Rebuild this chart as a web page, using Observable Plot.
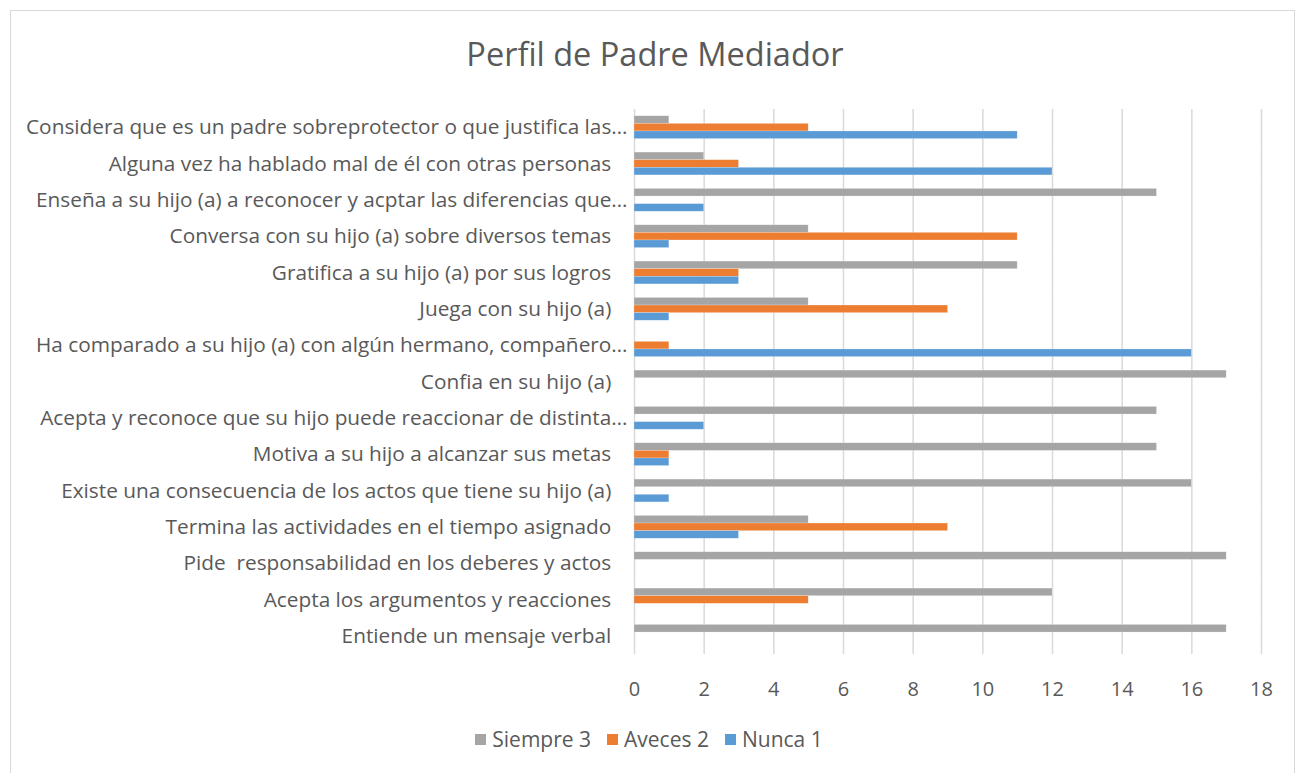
<!DOCTYPE html>
<html>
<head>
<meta charset="utf-8">
<script src="https://cdn.jsdelivr.net/npm/d3@7"></script>
<script src="https://cdn.jsdelivr.net/npm/@observablehq/plot@0.6"></script>
<style>
  html, body { margin: 0; padding: 0; background: #fff; }
  body { width: 1302px; height: 773px; overflow: hidden; position: relative; font-family: "Open Sans", sans-serif; color: #595959; }
  #frame { position: absolute; left: 10px; top: 10px; width: 1285px; height: 780px; border: 1px solid #d9d9d9; box-sizing: border-box; }
  #title { position: absolute; left: 4px; width: 1302px; top: 31px; text-align: center; font-size: 32.5px; color: #595959; }
  #chart { position: absolute; left: 0; top: 95px; }
  #legend { position: absolute; left: -2px; width: 1302px; top: 725px; display: flex; justify-content: center; gap: 16px; font-size: 21px; color: #595959; }
  #legend span.item { display: flex; align-items: center; }
  #legend span.sw { display: inline-block; width: 11px; height: 11px; margin-right: 6px; }
</style>
</head>
<body>
<div id="frame"></div>
<div id="title">Perfil de Padre Mediador</div>
<div id="chart"></div>
<div id="legend"></div>
<script>
const categories = [
  "Considera que es un padre sobreprotector o que justifica las…",
  "Alguna vez ha hablado mal de él con otras personas",
  "Enseña a su hijo (a) a reconocer y acptar las diferencias que…",
  "Conversa con su hijo (a) sobre diversos temas",
  "Gratifica a su hijo (a) por sus logros",
  "Juega con su hijo (a)",
  "Ha comparado a su hijo (a) con algún hermano, compañero…",
  "Confia en su hijo (a)",
  "Acepta y reconoce que su hijo puede reaccionar de distinta…",
  "Motiva a su hijo a alcanzar sus metas",
  "Existe una consecuencia de los actos que tiene su hijo (a)",
  "Termina las actividades en el tiempo asignado",
  "Pide  responsabilidad en los deberes y actos",
  "Acepta los argumentos y reacciones",
  "Entiende un mensaje verbal"
];
const seriesNames = ["Siempre 3", "Aveces 2", "Nunca 1"];
const seriesColors = ["#a5a5a5", "#ed7d31", "#5b9bd5"];
const siempre = [1, 2, 15, 5, 11, 5, 0, 17, 15, 15, 16, 5, 17, 12, 17];
const aveces  = [5, 3, 0, 11, 3, 9, 1, 0, 0, 1, 0, 9, 0, 5, 0];
const nunca   = [11, 12, 2, 1, 3, 1, 16, 0, 2, 1, 1, 3, 0, 0, 0];
const xTicks = [0, 2, 4, 6, 8, 10, 12, 14, 16, 18];

const seriesValues = [siempre, aveces, nunca];
const data = [];
categories.forEach((c, i) => {
  seriesNames.forEach((s, j) => {
    data.push({category: c, series: s, value: seriesValues[j][i]});
  });
});

// full (non-truncated) labels carry trailing spaces in the source chart
const fmtLabel = (d) => d.endsWith("…") ? d : d + "\u00a0\u00a0\u00a0";

const chart = Plot.plot({
  width: 1302,
  height: 610,
  marginLeft: 634,
  marginRight: 41,
  marginTop: 14,
  marginBottom: 51,
  style: {fontFamily: "Open Sans, sans-serif", fontSize: "20.8px", color: "#595959", background: "transparent"},
  x: {domain: [0, 18], ticks: xTicks, grid: false, label: null},
  fy: {domain: categories, paddingInner: 0, paddingOuter: 0, round: false, label: null},
  y: {domain: seriesNames, paddingInner: 0, paddingOuter: 0.89, round: false, axis: null},
  color: {domain: seriesNames, range: seriesColors},
  marks: [
    Plot.gridX(xTicks, {stroke: "#d9d9d9", strokeOpacity: 1, strokeWidth: 1.5}),
    Plot.barX(data, {x: "value", y: "series", fy: "category", fill: "series", stroke: "#fff", strokeOpacity: 0.35, strokeWidth: 0.6}),
    Plot.axisFy({anchor: "left", tickSize: 0, tickPadding: 7, label: null, fontSize: 20.8, fill: "#595959", tickFormat: fmtLabel}),
    Plot.axisX(xTicks, {anchor: "bottom", tickSize: 0, tickPadding: 27, label: null, fontSize: 20, fill: "#595959"})
  ]
});
document.getElementById("chart").appendChild(chart);

const legend = document.getElementById("legend");
seriesNames.forEach((s, i) => {
  const item = document.createElement("span");
  item.className = "item";
  const sw = document.createElement("span");
  sw.className = "sw";
  sw.style.background = seriesColors[i];
  item.appendChild(sw);
  item.appendChild(document.createTextNode(s));
  legend.appendChild(item);
});
</script>
</body>
</html>
